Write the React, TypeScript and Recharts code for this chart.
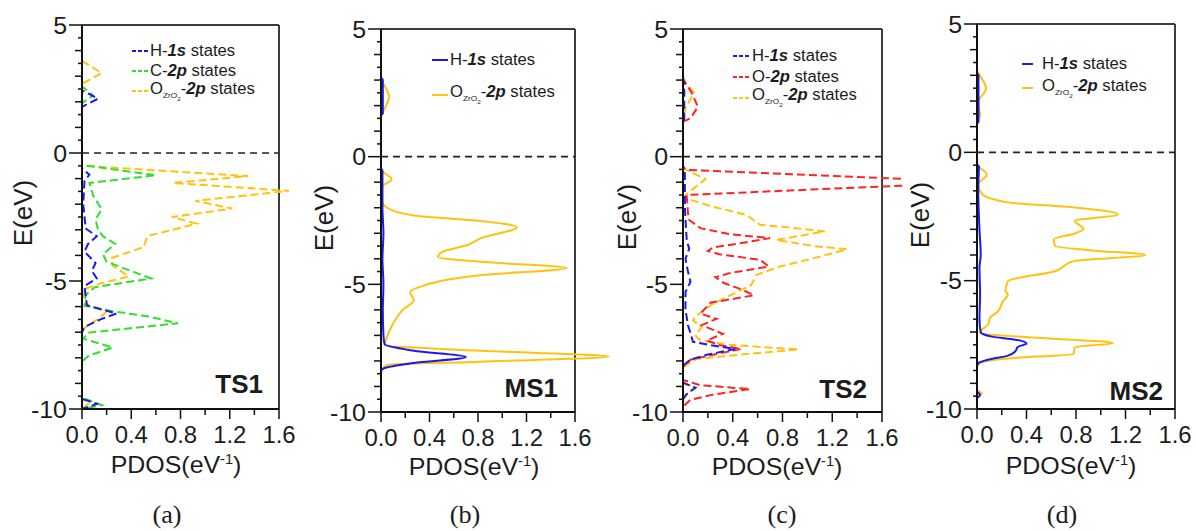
import React from 'react'
import { LineChart, Line, XAxis, YAxis, ReferenceLine, Legend, Label } from 'recharts'

type Pt = [number, number] // [E (eV), PDOS (eV^-1)]

// (a) TS1
const ts1H1s: Pt[] = [[5, 0], [2.45, 0], [2.12, 0.13], [1.8, 0], [-0.6, 0], [-0.85, 0.06], [-1.1, 0.02], [-2.0, 0.01], [-2.95, 0.03], [-3.25, 0.12], [-3.55, 0.05], [-3.85, 0.02], [-4.3, 0.11], [-4.6, 0.08], [-4.9, 0.12], [-5.2, 0.02], [-5.95, 0.04], [-6.27, 0.28], [-6.5, 0.15], [-6.8, 0.02], [-7.0, 0], [-9.6, 0], [-9.8, 0.12], [-10, 0]]
const ts1C2p: Pt[] = [[5, 0], [2.6, 0], [2.25, 0.09], [1.95, 0], [-0.47, 0], [-0.87, 0.6], [-1.17, 0.06], [-1.65, 0.09], [-2.2, 0.16], [-2.6, 0.11], [-3.0, 0.13], [-3.25, 0.17], [-3.55, 0.27], [-3.95, 0.17], [-4.25, 0.2], [-4.9, 0.56], [-5.25, 0.1], [-5.55, 0.03], [-5.97, 0.02], [-6.18, 0.25], [-6.38, 0.53], [-6.65, 0.78], [-7.02, 0.05], [-7.25, 0.01], [-7.6, 0.25], [-7.9, 0.06], [-8.15, 0], [-9.55, 0], [-9.85, 0.16], [-10, 0]]
const ts1OZr: Pt[] = [[5, 0], [3.6, 0], [3.12, 0.16], [2.7, 0], [-0.5, 0], [-0.9, 1.35], [-1.17, 0.74], [-1.48, 1.68], [-1.87, 0.92], [-2.17, 1.22], [-2.5, 0.73], [-2.76, 0.93], [-3.25, 0.53], [-3.68, 0.5], [-4.1, 0.24], [-4.4, 0.25], [-4.82, 0.38], [-5.1, 0.15], [-5.35, 0], [-5.95, 0.04], [-6.2, 0.2], [-6.45, 0.14], [-6.9, 0], [-9.6, 0], [-9.8, 0.05], [-10, 0]]

// (b) MS1
const ms1H1s: Pt[] = [[5, 0], [3.1, 0], [3.0, 0.015], [1.7, 0.015], [1.6, 0], [-0.45, 0], [-0.55, 0.012], [-2.0, 0.012], [-3.0, 0.02], [-4.0, 0.012], [-5.0, 0.02], [-6.0, 0.015], [-7.0, 0.02], [-7.35, 0.03], [-7.6, 0.27], [-7.85, 0.7], [-8.08, 0.27], [-8.3, 0.02], [-8.4, 0], [-10, 0]]
const ms1OZr: Pt[] = [[5, 0], [3.05, 0], [2.9, 0.015], [2.35, 0.066], [1.75, 0.015], [1.6, 0], [-0.5, 0], [-0.88, 0.088], [-1.2, 0.005], [-1.75, 0.01], [-2.0, 0.05], [-2.3, 0.27], [-2.52, 0.82], [-2.76, 1.12], [-3.2, 0.82], [-3.43, 0.73], [-3.77, 0.49], [-3.93, 0.47], [-4.12, 0.82], [-4.36, 1.53], [-4.64, 0.82], [-5.1, 0.32], [-5.3, 0.24], [-5.62, 0.27], [-6.0, 0.18], [-6.53, 0.1], [-7.05, 0.05], [-7.38, 0.03], [-7.6, 0.82], [-7.83, 1.88], [-8.03, 0.82], [-8.16, 0.05], [-8.4, 0], [-10, 0]]

// (c) TS2
const ts2H1s: Pt[] = [[5, 0], [3.0, 0], [2.9, 0.01], [1.5, 0.01], [1.3, 0], [-0.4, 0], [-0.5, 0.015], [-2.0, 0.015], [-3.3, 0.03], [-3.6, 0.05], [-4.0, 0.02], [-4.5, 0.04], [-4.9, 0.06], [-5.3, 0.02], [-6.0, 0.02], [-6.6, 0.04], [-6.9, 0.06], [-7.25, 0.08], [-7.4, 0.24], [-7.53, 0.42], [-7.76, 0.19], [-7.95, 0.06], [-8.2, 0], [-8.85, 0], [-9.05, 0.1], [-9.3, 0.03], [-9.5, 0], [-10, 0]]
const ts2O2p: Pt[] = [[5, 0], [3.1, 0], [2.96, 0.01], [2.5, 0.07], [1.95, 0.12], [1.5, 0.06], [1.37, 0], [-0.42, 0], [-0.52, 0.03], [-1.0, 2.4], [-1.5, 0.03], [-2.22, 0.04], [-2.48, 0.05], [-2.8, 0.14], [-3.04, 0.38], [-3.19, 0.7], [-3.35, 0.51], [-3.56, 0.24], [-3.69, 0.2], [-3.82, 0.29], [-4.04, 0.62], [-4.3, 0.69], [-4.56, 0.38], [-4.72, 0.26], [-4.95, 0.33], [-5.2, 0.47], [-5.43, 0.57], [-5.72, 0.22], [-6.15, 0.14], [-6.35, 0.27], [-6.6, 0.15], [-6.94, 0.32], [-7.2, 0.19], [-7.39, 0.3], [-7.53, 0.47], [-7.76, 0.24], [-7.95, 0.06], [-8.23, 0], [-8.75, 0], [-8.95, 0.14], [-9.1, 0.54], [-9.32, 0.24], [-9.52, 0.06], [-9.8, 0], [-10, 0]]
const ts2OZr: Pt[] = [[5, 0], [3.1, 0], [2.96, 0.01], [2.5, 0.09], [1.9, 0.02], [1.5, 0], [-0.35, 0], [-0.5, 0.02], [-0.88, 0.18], [-1.5, 0.02], [-1.63, 0.02], [-1.96, 0.24], [-2.28, 0.51], [-2.67, 0.62], [-2.8, 0.91], [-2.93, 1.14], [-3.26, 0.75], [-3.5, 1.05], [-3.63, 1.32], [-4.04, 1.0], [-4.3, 0.78], [-4.63, 0.59], [-5.02, 0.55], [-5.24, 0.46], [-5.76, 0.24], [-6.22, 0.11], [-6.41, 0.08], [-6.67, 0.15], [-7.0, 0.1], [-7.2, 0.14], [-7.37, 0.38], [-7.55, 0.93], [-7.73, 0.51], [-7.92, 0.11], [-8.18, 0.02], [-8.3, 0], [-8.85, 0], [-9.05, 0.1], [-9.3, 0.02], [-9.5, 0], [-10, 0]]

// (d) MS2
const ms2H1s: Pt[] = [[5, 0], [3.1, 0], [3.0, 0.012], [1.2, 0.012], [1.1, 0], [-0.45, 0], [-0.55, 0.015], [-1.5, 0.01], [-3.0, 0.02], [-4.0, 0.03], [-4.5, 0.02], [-5.5, 0.025], [-6.5, 0.02], [-7.0, 0.03], [-7.18, 0.12], [-7.3, 0.31], [-7.45, 0.4], [-7.58, 0.33], [-7.75, 0.31], [-7.92, 0.25], [-8.08, 0.09], [-8.22, 0.01], [-8.35, 0], [-9.3, 0], [-9.45, 0.025], [-9.6, 0], [-10, 0]]
const ms2OZr: Pt[] = [[5, 0], [3.2, 0], [3.1, 0.01], [2.49, 0.073], [1.95, 0.01], [1.43, 0.025], [1.2, 0], [-0.45, 0], [-0.87, 0.078], [-1.25, 0.01], [-1.62, 0.04], [-1.95, 0.25], [-2.15, 0.79], [-2.42, 1.14], [-2.67, 0.79], [-2.99, 0.86], [-3.16, 0.79], [-3.39, 0.62], [-3.65, 0.63], [-3.82, 0.93], [-4.0, 1.36], [-4.23, 0.79], [-4.63, 0.63], [-5.02, 0.25], [-5.41, 0.23], [-5.54, 0.25], [-5.8, 0.21], [-6.19, 0.17], [-6.45, 0.105], [-6.71, 0.09], [-6.91, 0.04], [-7.05, 0.025], [-7.23, 0.52], [-7.43, 1.1], [-7.6, 0.79], [-7.85, 0.78], [-8.03, 0.25], [-8.17, 0.04], [-8.35, 0], [-9.25, 0], [-9.4, 0.04], [-9.55, 0], [-10, 0]]

const pdosTicks = [0, 0.2, 0.4, 0.6, 0.8, 1.0, 1.2, 1.4, 1.6]
const energyTicks = [5, 4.5, 4, 3.5, 3, 2.5, 2, 1.5, 1, 0.5, 0, -0.5, -1, -1.5, -2, -2.5, -3, -3.5, -4, -4.5, -5, -5.5, -6, -6.5, -7, -7.5, -8, -8.5, -9, -9.5, -10]

const BLUE = '#1a1aee'
const GREEN = '#30e030'
const RED = '#ff2424'
const AMBER = '#ffc20e'

const SANS = 'Arial, "Liberation Sans", sans-serif'
const SERIF = '"Times New Roman", "Liberation Serif", serif'
const INK = '#1c1c1c'
const S = 1.04 // glyphs in the figure are a bit wider than Arial

type Kind = 'H' | 'C' | 'O' | 'OZ'
type Series = { key: Kind; data: Pt[]; color: string }

const seriesName = (k: Kind) => {
  if (k === 'H') return <>H-<b><i>1s</i></b> states</>
  if (k === 'C') return <>C-<b><i>2p</i></b> states</>
  if (k === 'O') return <>O-<b><i>2p</i></b> states</>
  return (
    <>
      O<sub style={{ fontSize: 8 }}>ZrO<sub style={{ fontSize: 6 }}>2</sub></sub>-<b><i>2p</i></b> states
    </>
  )
}

const panels = [
  {
    id: 'a', left: 0, width: 300, margin: { top: 25, right: 21, bottom: 62, left: 22 },
    dashed: true, tag: 'TS1', tagX: 263, tagY: 393, caption: '(a)', capX: 167,
    pdosX: 176, pdosY: 473, eX: 32, eY: 213,
    legend: { left: 132, top: 41, rowH: 20, lineW: 17, gap: 1 },
    series: [
      { key: 'H', data: ts1H1s, color: BLUE },
      { key: 'C', data: ts1C2p, color: GREEN },
      { key: 'OZ', data: ts1OZr, color: AMBER },
    ] as Series[],
  },
  {
    id: 'b', left: 300, width: 310, margin: { top: 29, right: 35, bottom: 59, left: 21 },
    dashed: false, tag: 'MS1', tagX: 258, tagY: 397, caption: '(b)', capX: 165,
    pdosX: 174, pdosY: 475, eX: 33, eY: 218,
    legend: { left: 132, top: 42, rowH: 35, lineW: 16, gap: 2 },
    series: [
      { key: 'H', data: ms1H1s, color: BLUE },
      { key: 'OZ', data: ms1OZr, color: AMBER },
    ] as Series[],
  },
  {
    id: 'c', left: 600, width: 303, margin: { top: 29, right: 21, bottom: 59, left: 23 },
    dashed: true, tag: 'TS2', tagX: 267, tagY: 398, caption: '(c)', capX: 182,
    pdosX: 177, pdosY: 475, eX: 36, eY: 217,
    legend: { left: 133, top: 45, rowH: 21, lineW: 18, gap: 1 },
    series: [
      { key: 'H', data: ts2H1s, color: BLUE },
      { key: 'O', data: ts2O2p, color: RED },
      { key: 'OZ', data: ts2OZr, color: AMBER },
    ] as Series[],
  },
  {
    id: 'd', left: 896, width: 300, margin: { top: 24, right: 21, bottom: 62, left: 21 },
    dashed: false, tag: 'MS2', tagX: 267, tagY: 400, caption: '(d)', capX: 166,
    pdosX: 175, pdosY: 474, eX: 33, eY: 215,
    legend: { left: 126, top: 52, rowH: 24, lineW: 11, gap: 9 },
    series: [
      { key: 'H', data: ms2H1s, color: BLUE },
      { key: 'OZ', data: ms2OZr, color: AMBER },
    ] as Series[],
  },
]

type Panel = (typeof panels)[number]

const SText = ({ x, y, size, anchor = 'middle', rotate = 0, weight = 'normal', family = SANS, stretch = S, children }: any) => (
  <text
    transform={`translate(${x},${y})${rotate ? ` rotate(${rotate})` : ''} scale(${stretch},1)`}
    textAnchor={anchor}
    fontSize={size}
    fontWeight={weight}
    fontFamily={family}
    fill={INK}
  >
    {children}
  </text>
)

const PdosTick = (props: any) => {
  const { x, y, payload } = props
  const v = payload.value as number
  const labelled = Math.abs(v / 0.4 - Math.round(v / 0.4)) < 1e-6
  return (
    <g>
      <line x1={x} x2={x} y1={y} y2={y + (labelled ? 10 : 6)} stroke="#111" strokeWidth={1.5} />
      {labelled && <SText x={x} y={y + 34} size={23}>{v.toFixed(1)}</SText>}
    </g>
  )
}

const EnergyTick = (props: any) => {
  const { x, y, payload } = props
  const v = payload.value as number
  const labelled = v % 5 === 0
  const len = labelled ? 13 : Number.isInteger(v) ? 7 : 4
  return (
    <g>
      <line x1={x - len} x2={x} y1={y} y2={y} stroke="#111" strokeWidth={1.5} />
      {labelled && <SText x={x - 15} y={y + 8.5} size={24} anchor="end">{v}</SText>}
    </g>
  )
}

const LegendBox = ({ p }: { p: Panel }) => (
  <div style={{ fontFamily: SANS, fontSize: 16, color: INK, lineHeight: 1 }}>
    {p.series.map((s) => (
      <div key={s.key} style={{ display: 'flex', alignItems: 'center', height: p.legend.rowH }}>
        <svg width={p.legend.lineW} height={4} style={{ display: 'block' }}>
          <line x1={0} x2={p.legend.lineW} y1={2} y2={2} stroke={s.color} strokeWidth={2} strokeDasharray={p.dashed ? '4 2' : undefined} />
        </svg>
        <span style={{ display: 'inline-block', marginLeft: p.legend.gap, whiteSpace: 'nowrap', transform: `scaleX(${S})`, transformOrigin: 'left center' }}>
          {seriesName(s.key)}
        </span>
      </div>
    ))}
  </div>
)

const PdosPanel = ({ p }: { p: Panel }) => {
  // amber drawn first so the thinner contributions stay visible on top
  const drawOrder = [...p.series].reverse()
  return (
    <div style={{ position: 'absolute', left: p.left, top: 0 }}>
      <LineChart layout="vertical" width={p.width} height={531} margin={p.margin}>
        <XAxis
          type="number"
          domain={[0, 1.6]}
          allowDataOverflow
          ticks={pdosTicks}
          interval={0}
          tick={(t: any) => <PdosTick {...t} />}
          tickLine={false}
          tickSize={0}
          tickMargin={0}
          height={60}
          axisLine={{ stroke: '#111', strokeWidth: 2 }}
        >
          <Label
            content={() => (
              <g>
                <SText x={p.pdosX} y={p.pdosY} size={24}>
                  PDOS(eV<tspan dy={-9} fontSize={14}>-1</tspan><tspan dy={9}>)</tspan>
                </SText>
                <SText x={p.tagX} y={p.tagY} size={25} weight="bold" anchor="end">{p.tag}</SText>
                <SText x={p.capX} y={523} size={25} family={SERIF} stretch={1.05}>{p.caption}</SText>
              </g>
            )}
          />
        </XAxis>
        <YAxis
          type="number"
          dataKey="E"
          domain={[-10, 5]}
          reversed
          allowDataOverflow
          ticks={energyTicks}
          interval={0}
          tick={(t: any) => <EnergyTick {...t} />}
          tickLine={false}
          tickSize={0}
          tickMargin={0}
          width={60}
          axisLine={{ stroke: '#111', strokeWidth: 2 }}
        >
          <Label content={() => <SText x={p.eX} y={p.eY} size={25} rotate={-90}>E(eV)</SText>} />
        </YAxis>
        <ReferenceLine y={5} stroke="#3c3c3c" strokeWidth={2} />
        <ReferenceLine x={1.6} stroke="#3c3c3c" strokeWidth={2} />
        <ReferenceLine y={0} stroke="#222" strokeWidth={1.6} strokeDasharray="7 5" />
        {drawOrder.map((s) => (
          <Line
            key={s.key}
            name={s.key}
            data={s.data.map(([E, v]) => ({ E, v }))}
            dataKey="v"
            type={p.dashed ? 'linear' : 'monotone'}
            stroke={s.color}
            strokeWidth={2}
            strokeDasharray={p.dashed ? '8 4' : undefined}
            dot={false}
            activeDot={false}
            isAnimationActive={false}
          />
        ))}
        <Legend
          layout="vertical"
          align="center"
          verticalAlign="middle"
          wrapperStyle={{ left: p.legend.left, top: p.legend.top, width: 'auto', height: 'auto' }}
          content={() => <LegendBox p={p} />}
        />
      </LineChart>
    </div>
  )
}

export default function App() {
  return (
    <div style={{ position: 'relative', width: 1196, height: 531, background: '#fff', overflow: 'hidden' }}>
      <style>{'body{margin:0}.recharts-line [clip-path],.recharts-line[clip-path]{clip-path:none !important}'}</style>
      {panels.map((p) => (
        <PdosPanel key={p.id} p={p} />
      ))}
    </div>
  )
}
